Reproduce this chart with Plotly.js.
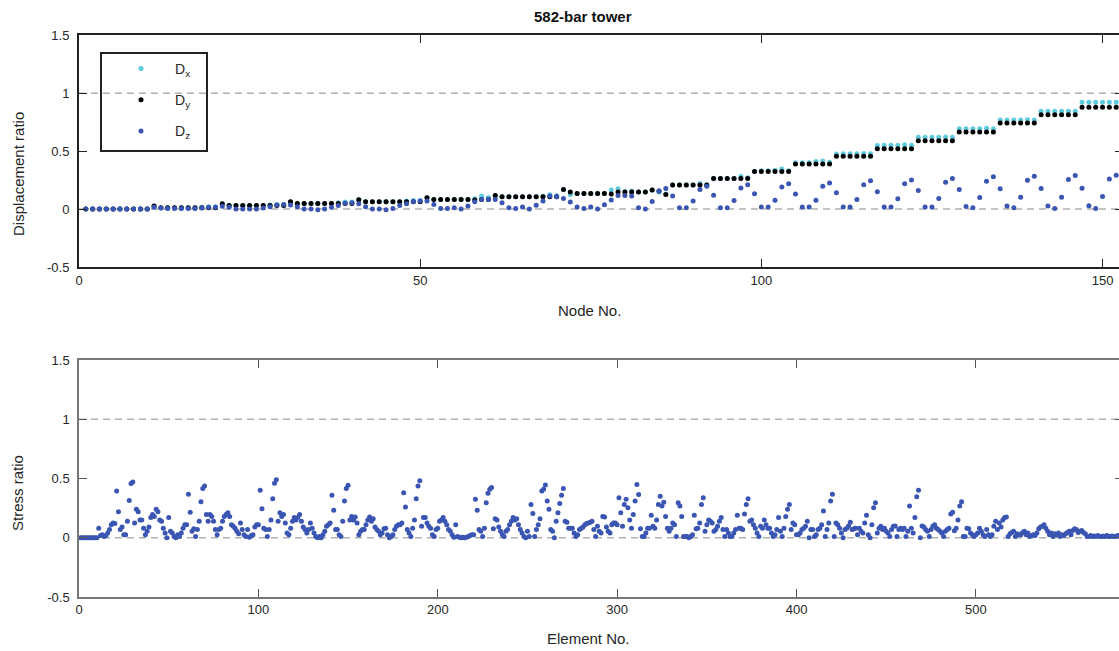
<!DOCTYPE html>
<html>
<head>
<meta charset="utf-8">
<script src="https://cdn.plot.ly/plotly-3.0.1.min.js"></script>
<style>
html,body{margin:0;padding:0;overflow:hidden;background:#fff;}
#chart{width:1123px;height:651px;}
</style>
</head>
<body>
<div id="chart"></div>
<script>
// ---- Top panel: displacement ratio per node ----
const dispDx = [
0,0,0,0,0,0,0,0,0,0,
0.026,0.012,0.012,0.012,0.012,0.012,0.012,0.015,0.02,0.02,
0.046,0.03,0.03,0.03,0.03,0.03,0.03,0.035,0.04,0.04,
0.063,0.049,0.049,0.049,0.049,0.049,0.049,0.055,0.06,0.06,
0.08,0.063,0.063,0.063,0.063,0.063,0.063,0.07,0.075,0.075,
0.098,0.083,0.083,0.083,0.083,0.083,0.083,0.09,0.112,0.1,
0.118,0.106,0.106,0.106,0.106,0.106,0.106,0.11,0.124,0.115,
0.17,0.126,0.135,0.135,0.135,0.135,0.135,0.164,0.175,0.15,
0.155,0.147,0.147,0.164,0.147,0.13,
0.207,0.207,0.207,0.207,0.221,0.21,
0.264,0.264,0.264,0.264,0.284,0.27,
0.325,0.33,0.33,0.335,0.345,0.33,
0.4,0.4,0.4,0.41,0.415,0.405,
0.476,0.478,0.478,0.478,0.48,0.478,
0.548,0.55,0.55,0.55,0.556,0.55,
0.619,0.619,0.619,0.619,0.622,0.619,
0.693,0.693,0.693,0.693,0.697,0.693,
0.768,0.768,0.768,0.768,0.77,0.768,
0.845,0.845,0.845,0.845,0.845,0.845,
0.923,0.923,0.923,0.923,0.923,0.923,
0.96];
const dispDy = [
0,0,0,0,0,0,0,0,0,0,
0.026,0.012,0.012,0.012,0.012,0.012,0.012,0.012,0.012,0.012,
0.046,0.03,0.03,0.03,0.03,0.03,0.03,0.03,0.03,0.03,
0.063,0.049,0.049,0.049,0.049,0.049,0.049,0.049,0.049,0.049,
0.08,0.063,0.063,0.063,0.063,0.063,0.063,0.063,0.063,0.063,
0.098,0.083,0.083,0.083,0.083,0.083,0.083,0.078,0.083,0.083,
0.118,0.106,0.106,0.106,0.106,0.106,0.106,0.106,0.106,0.106,
0.17,0.147,0.135,0.135,0.135,0.135,0.135,0.13,0.147,0.147,
0.147,0.147,0.147,0.164,0.155,0.126,
0.207,0.207,0.207,0.207,0.207,0.207,
0.264,0.264,0.264,0.264,0.264,0.264,
0.325,0.325,0.325,0.325,0.325,0.325,
0.39,0.39,0.39,0.39,0.39,0.39,
0.456,0.456,0.456,0.456,0.456,0.456,
0.521,0.521,0.521,0.521,0.521,0.521,
0.59,0.59,0.59,0.59,0.59,0.59,
0.665,0.665,0.665,0.665,0.665,0.665,
0.742,0.742,0.742,0.742,0.742,0.742,
0.814,0.814,0.814,0.814,0.814,0.814,
0.88,0.88,0.88,0.88,0.88,0.88,
0.93];
const dispDz = [
0,0,0,0,0,0,0,0,0,0,
0.015,0.01,0.005,0.005,0.005,0.005,0.005,0.01,0.015,0.015,
0.025,0.015,0,0,0,0,0.01,0.02,0.035,0.04,
0.035,0.02,0,0,-0.005,0,0.015,0.03,0.05,0.055,
0.045,0.02,0,0,-0.005,0.005,0.03,0.045,0.065,0.07,
0.069,0.04,0.006,0.006,0.011,0,0.026,0.063,0.083,0.083,
0.083,0.055,0.011,0.006,0.017,0,0.034,0.069,0.112,0.106,
0.092,0.06,0.017,0.006,0.017,0,0.037,0.078,0.118,0.118,
0.112,0.011,0,0.066,0.155,0.178,
0.112,0.011,0.011,0.069,0.17,0.198,
0.12,0.011,0.011,0.075,0.181,0.21,
0.132,0.017,0.017,0.077,0.19,0.218,
0.13,0.017,0.017,0.077,0.198,0.226,
0.14,0.017,0.017,0.083,0.21,0.244,
0.149,0.017,0.017,0.089,0.218,0.252,
0.16,0.017,0.017,0.092,0.232,0.264,
0.169,0.023,0.011,0.1,0.24,0.278,
0.175,0.026,0.011,0.103,0.249,0.284,
0.178,0.026,0.006,0.103,0.255,0.289,
0.18,0.029,0.006,0.109,0.26,0.292,
0.18];

// ---- Bottom panel: stress ratio per element ----
const stressRatio = [
0,0,0,0,0,0,0,0,0,0,
0.08,0.02,0.025,0.01,0.02,0.04,0.07,0.11,0.125,0.12,
0.395,0.22,0.07,0.09,0.025,0.025,0.14,0.315,0.457,0.47,
0.125,0.24,0.22,0.15,0.15,0.08,0.025,0.055,0.09,0.17,
0.196,0.18,0.24,0.22,0.15,0.14,0.08,0.04,0.0,0.17,
0.055,0.04,0.01,0.0,0.025,0.01,0.04,0.08,0.11,0.11,
0.367,0.216,0.055,0.075,0.01,0.07,0.14,0.304,0.415,0.437,
0.196,0.14,0.196,0.18,0.14,0.07,0.025,0.07,0.08,0.14,
0.18,0.196,0.21,0.18,0.11,0.097,0.08,0.055,0.034,0.125,
0.07,0.025,0.01,0.07,0.005,0.02,0.025,0.09,0.11,0.11,
0.4,0.244,0.08,0.07,0.01,0.07,0.15,0.33,0.46,0.49,
0.14,0.21,0.18,0.196,0.125,0.04,0.025,0.08,0.14,0.17,
0.15,0.17,0.196,0.14,0.09,0.07,0.04,0.07,0.125,0.08,
0.04,0.01,0.0,0.01,0.0,0.025,0.055,0.097,0.11,0.125,
0.358,0.233,0.07,0.07,0.025,0.01,0.14,0.31,0.415,0.443,
0.15,0.18,0.15,0.176,0.125,0.025,0.055,0.07,0.07,0.11,
0.15,0.176,0.14,0.16,0.09,0.07,0.055,0.025,0.04,0.075,
0.08,0.025,0.0,0.01,0.025,0.07,0.097,0.11,0.11,0.125,
0.38,0.259,0.07,0.04,0.01,0.08,0.15,0.33,0.437,0.48,
0.097,0.17,0.17,0.125,0.097,0.08,0.025,0.01,0.07,0.08,
0.14,0.15,0.17,0.14,0.11,0.07,0.055,0.025,0.005,0.11,
0.01,0.005,0.0,0.005,0.0,0.005,0.01,0.02,0.025,0.025,
0.324,0.233,0.07,0.055,0.01,0.08,0.295,0.375,0.41,0.423,
0.075,0.16,0.15,0.09,0.055,0.025,0.01,0.055,0.07,0.11,
0.14,0.17,0.15,0.16,0.11,0.07,0.04,0.01,0.0,0.055,
0.01,0.28,0.205,0.01,0.07,0.11,0.16,0.395,0.41,0.446,
0.31,0.24,0.07,0.055,0.0,0.14,0.21,0.29,0.358,0.415,
0.14,0.13,0.08,0.08,0.08,0.04,0.01,0.025,0.07,0.08,
0.09,0.11,0.12,0.125,0.13,0.14,0.07,0.01,0.097,0.055,
0.04,0.18,0.176,0.09,0.055,0.04,0.11,0.125,0.125,0.11,
0.338,0.21,0.097,0.28,0.324,0.253,0.15,0.08,0.196,0.31,
0.45,0.366,0.075,0.01,0.01,0.04,0.08,0.08,0.19,0.097,
0.08,0.15,0.28,0.35,0.267,0.3,0.18,0.08,0.055,0.08,
0.125,0.11,0.01,0.295,0.267,0.18,0.01,0.01,0.01,0.0,
0.01,0.025,0.19,0.075,0.08,0.125,0.28,0.338,0.055,0.11,
0.15,0.14,0.125,0.055,0.07,0.097,0.14,0.17,0.07,0.01,
0.07,0.04,0.01,0.01,0.04,0.07,0.19,0.08,0.08,0.07,
0.2,0.28,0.33,0.14,0.15,0.11,0.08,0.04,0.01,0.097,
0.08,0.15,0.11,0.08,0.08,0.04,0.01,0.025,0.07,0.17,
0.055,0.01,0.08,0.18,0.24,0.28,0.07,0.125,0.11,0.025,
0.025,0.04,0.07,0.08,0.097,0.14,0.0,0.07,0.07,0.01,
0.025,0.07,0.08,0.11,0.225,0.01,0.07,0.125,0.31,0.367,
0.01,0.125,0.11,0.08,0.04,0.0,0.07,0.08,0.1,0.13,
0.07,0.075,0.08,0.025,0.08,0.055,0.04,0.125,0.19,0.025,
0.0,0.11,0.253,0.295,0.04,0.08,0.097,0.07,0.08,0.055,
0.04,0.01,0.07,0.097,0.1,0.01,0.07,0.08,0.07,0.08,
0.01,0.055,0.267,0.08,0.04,0.17,0.347,0.4,0.0,0.1,
0.09,0.07,0.055,0.01,0.07,0.097,0.11,0.08,0.07,0.055,
0.04,0.01,0.055,0.07,0.08,0.2,0.216,0.06,0.08,0.15,
0.267,0.304,0.01,0.01,0.08,0.075,0.04,0.025,0.01,0.025,
0.04,0.08,0.055,0.025,0.01,0.07,0.025,0.01,0.025,0.097,
0.14,0.07,0.125,0.09,0.15,0.17,0.176,0.01,0.034,0.045,
0.055,0.01,0.034,0.025,0.025,0.045,0.055,0.025,0.04,0.01,
0.02,0.025,0.02,0.04,0.075,0.09,0.097,0.11,0.08,0.055,
0.025,0.04,0.01,0.034,0.025,0.04,0.01,0.025,0.02,0.034,
0.045,0.055,0.025,0.062,0.075,0.07,0.045,0.055,0.062,0.045,
0.034,0.01,0.01,0.02,0.01,0.015,0.01,0.02,0.01,0.01,
0.015,0.01,0.02,0.01,0.01,0.015,0.01,0.01,0.02,0.01,
0.01,0.01];

const titleText = '582-bar tower';
const seriesNames = ['D<sub>x</sub>', 'D<sub>y</sub>', 'D<sub>z</sub>'];
const yTickVals = [-0.5, 0, 0.5, 1, 1.5];
const yTickText = ['-0.5', '0', '0.5', '1', '1.5'];
const xTopTicks = [0, 50, 100, 150];
const xBotTicks = [0, 100, 200, 300, 400, 500];

const nodeNo = dispDy.map((_, i) => i + 1);
const elemNo = stressRatio.map((_, i) => i + 1);

const FONT = 'Liberation Sans, Arial, sans-serif';
const C_DX = '#5fcbe0', C_DY = '#000000', C_DZ = '#3a55b2';

const traces = [
  {x: nodeNo, y: dispDx, type: 'scatter', mode: 'markers', name: seriesNames[0],
   marker: {color: C_DX, size: 5}, xaxis: 'x', yaxis: 'y', legendgroup: 'a'},
  {x: nodeNo, y: dispDy, type: 'scatter', mode: 'markers', name: seriesNames[1],
   marker: {color: C_DY, size: 5}, xaxis: 'x', yaxis: 'y', legendgroup: 'b'},
  {x: nodeNo, y: dispDz, type: 'scatter', mode: 'markers', name: seriesNames[2],
   marker: {color: C_DZ, size: 5}, xaxis: 'x', yaxis: 'y', legendgroup: 'c'},
  {x: elemNo, y: stressRatio, type: 'scatter', mode: 'markers', name: 'Stress ratio',
   marker: {color: C_DZ, size: 5}, xaxis: 'x2', yaxis: 'y2', showlegend: false}
];

const W = 1123, H = 651, L = 79;
const px = v => (v - L) / (W - L);
const py = v => (H - v) / H;

const axCommon = {
  ticks: 'inside', ticklen: 8, tickwidth: 1, showgrid: false, zeroline: false,
  showline: true, mirror: 'ticks', tickfont: {family: FONT, size: 13, color: '#262626'}
};

const annFont = {family: FONT, size: 15, color: '#262626'};

const layout = {
  width: W, height: H,
  margin: {l: L, r: 0, t: 0, b: 0},
  paper_bgcolor: '#fff', plot_bgcolor: '#fff',
  font: {family: FONT, color: '#262626'},
  showlegend: true,
  legend: {x: px(107), y: py(53), xanchor: 'left', yanchor: 'top',
    bgcolor: 'rgba(0,0,0,0)', borderwidth: 0, tracegroupgap: 10, itemwidth: 58,
    traceorder: 'grouped', font: {family: FONT, size: 14, color: '#262626'}},
  xaxis: Object.assign({}, axCommon, {domain: [0, 1], range: [0, 153], anchor: 'y',
    tickvals: xTopTicks, linecolor: '#222', linewidth: 2, tickcolor: '#222'}),
  yaxis: Object.assign({}, axCommon, {domain: [py(267), py(35.3)], range: [-0.5, 1.5], anchor: 'x',
    tickvals: yTickVals, ticktext: yTickText, linecolor: '#222', linewidth: 2, tickcolor: '#222',
    ticklabelstandoff: 5}),
  xaxis2: Object.assign({}, axCommon, {domain: [0, 1], range: [0, 582], anchor: 'y2',
    tickvals: xBotTicks, linecolor: '#777', linewidth: 1.5, tickcolor: '#555'}),
  yaxis2: Object.assign({}, axCommon, {domain: [py(597), py(360)], range: [-0.5, 1.5], anchor: 'x2',
    tickvals: yTickVals, ticktext: yTickText, linecolor: '#777', linewidth: 1.5, tickcolor: '#555',
    ticklabelstandoff: 5}),
  shapes: [
    {type: 'line', xref: 'x', yref: 'y', x0: 0, x1: 153, y0: 0, y1: 0, layer: 'below',
     line: {color: '#b0b0b0', width: 1.5, dash: '7px,5px'}},
    {type: 'line', xref: 'x', yref: 'y', x0: 0, x1: 153, y0: 1, y1: 1, layer: 'below',
     line: {color: '#b0b0b0', width: 1.5, dash: '7px,5px'}},
    {type: 'line', xref: 'x2', yref: 'y2', x0: 0, x1: 582, y0: 0, y1: 0, layer: 'below',
     line: {color: '#b0b0b0', width: 1.5, dash: '7px,5px'}},
    {type: 'line', xref: 'x2', yref: 'y2', x0: 0, x1: 582, y0: 1, y1: 1, layer: 'below',
     line: {color: '#b0b0b0', width: 1.5, dash: '7px,5px'}},
    {type: 'rect', xref: 'paper', yref: 'paper', x0: px(101), x1: px(207), y0: py(151), y1: py(53),
     line: {color: '#222', width: 2}, fillcolor: 'rgba(0,0,0,0)', layer: 'above'}
  ],
  annotations: [
    {text: '<b>' + titleText + '</b>', xref: 'paper', yref: 'paper', x: px(583), y: py(17),
     xanchor: 'center', yanchor: 'middle', showarrow: false,
     font: {family: FONT, size: 15, color: '#111'}},
    {text: 'Displacement ratio', xref: 'paper', yref: 'paper', x: px(19), y: py(174),
     xanchor: 'center', yanchor: 'middle', textangle: -90, showarrow: false, font: annFont},
    {text: 'Node No.', xref: 'paper', yref: 'paper', x: px(589), y: py(310),
     xanchor: 'center', yanchor: 'middle', showarrow: false, font: annFont},
    {text: 'Stress ratio', xref: 'paper', yref: 'paper', x: px(17), y: py(493),
     xanchor: 'center', yanchor: 'middle', textangle: -90, showarrow: false, font: annFont},
    {text: 'Element No.', xref: 'paper', yref: 'paper', x: px(588), y: py(638),
     xanchor: 'center', yanchor: 'middle', showarrow: false, font: annFont}
  ]
};

Plotly.newPlot('chart', traces, layout, {displayModeBar: false, responsive: false});
</script>
</body>
</html>
